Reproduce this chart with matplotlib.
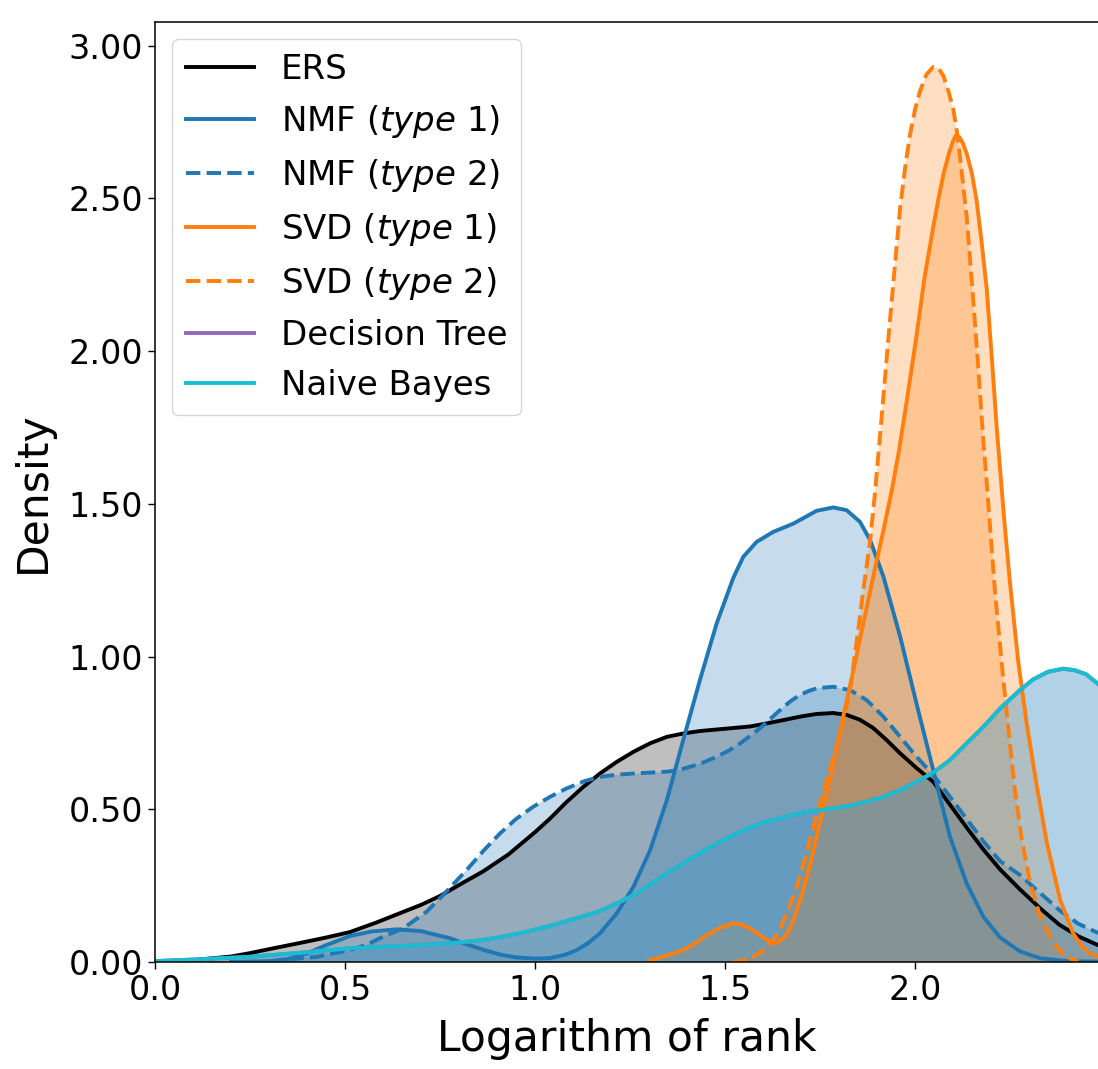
import matplotlib
matplotlib.use("Agg")
import matplotlib.pyplot as plt
from matplotlib.ticker import FormatStrFormatter, MultipleLocator

# Density curves of the logarithm of rank, one per method (x, density pairs)
ers_x = [0.00, 0.10, 0.20, 0.25, 0.30, 0.38, 0.45, 0.513, 0.58, 0.645, 0.70, 0.75, 0.80,
         0.864, 0.93, 1.00, 1.04, 1.08, 1.126, 1.171, 1.215, 1.259, 1.303, 1.347, 1.39,
         1.434, 1.478, 1.522, 1.566, 1.61, 1.654, 1.697, 1.741, 1.785, 1.82, 1.855, 1.89,
         1.925, 1.961, 2.004, 2.048, 2.092, 2.136, 2.18, 2.224, 2.276, 2.33, 2.38, 2.43,
         2.482]
ers_y = [0.002, 0.006, 0.018, 0.029, 0.042, 0.062, 0.080, 0.098, 0.128, 0.160, 0.187,
         0.216, 0.252, 0.297, 0.352, 0.425, 0.470, 0.520, 0.572, 0.617, 0.655, 0.688,
         0.716, 0.737, 0.748, 0.756, 0.761, 0.766, 0.771, 0.781, 0.792, 0.803, 0.812,
         0.815, 0.809, 0.793, 0.766, 0.727, 0.683, 0.635, 0.590, 0.515, 0.440, 0.368,
         0.303, 0.238, 0.175, 0.122, 0.084, 0.055]

nmf1_x = [0.20, 0.30, 0.35, 0.40, 0.45, 0.513, 0.57, 0.636, 0.70, 0.776, 0.82, 0.864,
          0.91, 0.952, 1.00, 1.04, 1.08, 1.11, 1.14, 1.171, 1.215, 1.259, 1.303, 1.347,
          1.39, 1.434, 1.478, 1.522, 1.548, 1.583, 1.627, 1.68, 1.741, 1.785, 1.82, 1.855,
          1.882, 1.917, 1.961, 2.004, 2.048, 2.092, 2.136, 2.18, 2.224, 2.276, 2.33, 2.40,
          2.482]
nmf1_y = [0.000, 0.003, 0.010, 0.028, 0.055, 0.085, 0.100, 0.107, 0.101, 0.078, 0.058,
          0.040, 0.024, 0.015, 0.011, 0.013, 0.024, 0.039, 0.062, 0.094, 0.159, 0.246,
          0.366, 0.530, 0.726, 0.923, 1.108, 1.258, 1.326, 1.375, 1.408, 1.435, 1.477,
          1.488, 1.479, 1.441, 1.381, 1.261, 1.065, 0.846, 0.628, 0.410, 0.257, 0.148,
          0.080, 0.035, 0.012, 0.003, 0.001]

nmf2_x = [0.30, 0.34, 0.425, 0.513, 0.56, 0.60, 0.653, 0.715, 0.758, 0.82, 0.865, 0.908,
          0.95, 0.995, 1.04, 1.083, 1.13, 1.171, 1.215, 1.259, 1.303, 1.347, 1.378, 1.408,
          1.443, 1.478, 1.51, 1.54, 1.566, 1.592, 1.623, 1.654, 1.675, 1.697, 1.72, 1.741,
          1.785, 1.829, 1.873, 1.917, 1.961, 2.004, 2.048, 2.092, 2.136, 2.18, 2.224,
          2.276, 2.33, 2.38, 2.43, 2.482]
nmf2_y = [0.000, 0.007, 0.017, 0.039, 0.058, 0.083, 0.110, 0.165, 0.219, 0.301, 0.365,
          0.421, 0.468, 0.508, 0.541, 0.568, 0.592, 0.606, 0.613, 0.617, 0.620, 0.623,
          0.628, 0.639, 0.653, 0.672, 0.692, 0.716, 0.740, 0.765, 0.800, 0.835, 0.856,
          0.874, 0.887, 0.896, 0.901, 0.890, 0.857, 0.803, 0.737, 0.672, 0.612, 0.541,
          0.468, 0.395, 0.330, 0.285, 0.225, 0.170, 0.125, 0.095]

svd1_x = [1.30, 1.35, 1.39, 1.42, 1.452, 1.487, 1.522, 1.545, 1.566, 1.59, 1.61, 1.632,
          1.654, 1.667, 1.68, 1.693, 1.706, 1.72, 1.733, 1.759, 1.785, 1.811, 1.838, 1.864,
          1.89, 1.917, 1.939, 1.958, 1.98, 2.004, 2.025, 2.048, 2.062, 2.075, 2.09, 2.101,
          2.108, 2.117, 2.126, 2.136, 2.15, 2.162, 2.175, 2.189, 2.202, 2.215, 2.234, 2.25,
          2.272, 2.294, 2.32, 2.347, 2.382, 2.416, 2.44, 2.461, 2.482]
svd1_y = [0.005, 0.022, 0.039, 0.060, 0.088, 0.112, 0.127, 0.122, 0.110, 0.090, 0.072,
          0.061, 0.077, 0.100, 0.138, 0.185, 0.236, 0.300, 0.366, 0.508, 0.650, 0.803,
          0.955, 1.108, 1.261, 1.414, 1.544, 1.675, 1.850, 2.050, 2.240, 2.406, 2.500,
          2.580, 2.650, 2.690, 2.706, 2.700, 2.680, 2.646, 2.580, 2.493, 2.360, 2.200,
          1.980, 1.750, 1.460, 1.240, 0.980, 0.780, 0.580, 0.390, 0.203, 0.094, 0.050,
          0.028, 0.018]

svd2_x = [1.52, 1.56, 1.583, 1.605, 1.627, 1.645, 1.662, 1.68, 1.697, 1.715, 1.733, 1.75,
          1.768, 1.785, 1.803, 1.817, 1.829, 1.847, 1.864, 1.882, 1.895, 1.912, 1.934,
          1.961, 1.975, 1.987, 2.00, 2.013, 2.03, 2.048, 2.062, 2.075, 2.088, 2.101, 2.11,
          2.118, 2.136, 2.153, 2.165, 2.179, 2.193, 2.21, 2.228, 2.246, 2.263, 2.281,
          2.303, 2.329, 2.363, 2.40, 2.43]
svd2_y = [0.000, 0.008, 0.023, 0.042, 0.072, 0.110, 0.159, 0.215, 0.279, 0.360, 0.443,
          0.520, 0.595, 0.670, 0.748, 0.820, 0.890, 1.054, 1.217, 1.381, 1.540, 1.780,
          2.100, 2.470, 2.610, 2.710, 2.790, 2.850, 2.905, 2.930, 2.925, 2.900, 2.850,
          2.790, 2.720, 2.640, 2.440, 2.170, 1.970, 1.720, 1.500, 1.220, 0.980, 0.760,
          0.560, 0.400, 0.260, 0.150, 0.065, 0.015, 0.002]

naive_bayes_x = [0.00, 0.10, 0.25, 0.38, 0.513, 0.645, 0.776, 0.85, 0.908, 0.97, 1.039,
                 1.10, 1.171, 1.215, 1.259, 1.303, 1.347, 1.39, 1.434, 1.478, 1.522, 1.566,
                 1.61, 1.654, 1.697, 1.741, 1.785, 1.83, 1.873, 1.917, 1.961, 2.004, 2.048,
                 2.092, 2.136, 2.18, 2.224, 2.276, 2.311, 2.35, 2.39, 2.42, 2.45, 2.482]
naive_bayes_y = [0.003, 0.008, 0.017, 0.030, 0.045, 0.052, 0.061, 0.070, 0.081, 0.097,
                 0.118, 0.140, 0.167, 0.192, 0.219, 0.254, 0.290, 0.323, 0.356, 0.387,
                 0.416, 0.440, 0.459, 0.474, 0.487, 0.496, 0.503, 0.512, 0.525, 0.541,
                 0.563, 0.590, 0.620, 0.661, 0.716, 0.770, 0.830, 0.890, 0.925, 0.950,
                 0.960, 0.955, 0.942, 0.910]

# Decision Tree ranks share the Naive Bayes distribution
decision_tree_x = list(naive_bayes_x)
decision_tree_y = list(naive_bayes_y)

labels = ["ERS", r"NMF ($\it{type}$ 1)", r"NMF ($\it{type}$ 2)",
          r"SVD ($\it{type}$ 1)", r"SVD ($\it{type}$ 2)", "Decision Tree", "Naive Bayes"]
colors = ["black", "#1f77b4", "#1f77b4", "#ff7f0e", "#ff7f0e", "#9467bd", "#17becf"]
styles = ["-", "-", "--", "-", "--", "-", "-"]
series = [(ers_x, ers_y), (nmf1_x, nmf1_y), (nmf2_x, nmf2_y), (svd1_x, svd1_y),
          (svd2_x, svd2_y), (decision_tree_x, decision_tree_y),
          (naive_bayes_x, naive_bayes_y)]

fig = plt.figure(figsize=(10.98, 10.69), dpi=100)
ax = fig.add_axes([155 / 1098, 107 / 1069, 943 / 1098, 940 / 1069])

for (xs, ys), lab, col, ls in zip(series, labels, colors, styles):
    ax.plot(xs, ys, color=col, linestyle=ls, linewidth=2.8, label=lab,
            solid_joinstyle="round")
    ax.fill_between(xs, 0, ys, facecolor=col, alpha=0.25, linewidth=0)

ax.set_xlim(0, 943 / 380)
ax.set_ylim(0, 3.077)
ax.xaxis.set_major_locator(MultipleLocator(0.5))
ax.yaxis.set_major_locator(MultipleLocator(0.5))
ax.xaxis.set_major_formatter(FormatStrFormatter("%.1f"))
ax.yaxis.set_major_formatter(FormatStrFormatter("%.2f"))
ax.tick_params(labelsize=24, length=4.9, width=1.0)
ax.spines["right"].set_visible(False)
for s in ("left", "bottom", "top"):
    ax.spines[s].set_linewidth(1.1)

ax.set_xlabel("Logarithm of rank", fontsize=30.6, labelpad=8)
ax.set_ylabel("Density", fontsize=30.6, labelpad=11)
ax.legend(loc="upper left", fontsize=24.5)

fig.savefig("out.png", dpi=100)
